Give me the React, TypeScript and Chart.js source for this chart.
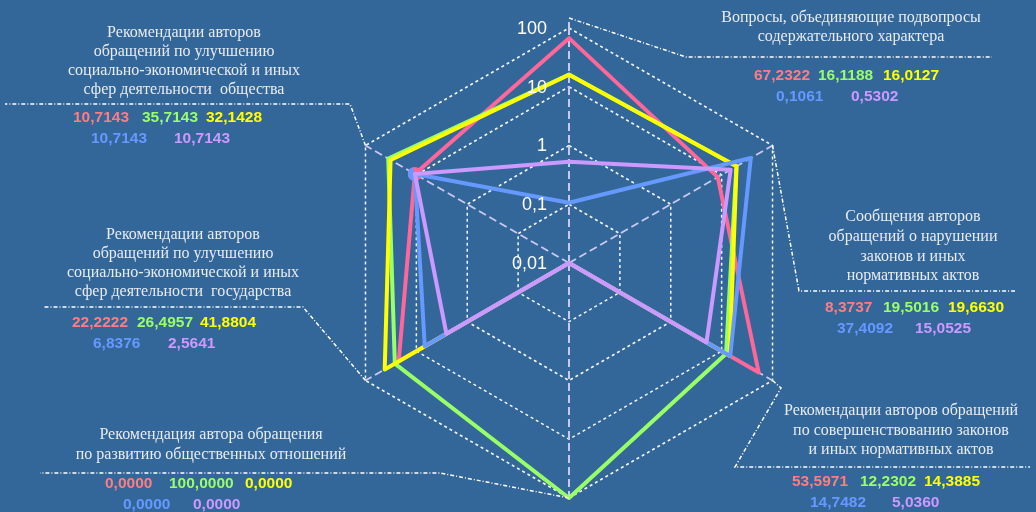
import React, { useEffect, useRef } from 'react';
import { Chart, registerables } from 'chart.js';

Chart.register(...registerables);

// ---------- data ----------
const categories: string[][] = [
  ['Вопросы, объединяющие подвопросы', 'содержательного характера'],
  ['Сообщения авторов', 'обращений о нарушении', 'законов и иных', 'нормативных актов'],
  ['Рекомендации авторов обращений', 'по совершенствованию законов', 'и иных нормативных актов'],
  ['Рекомендация автора обращения', 'по развитию общественных отношений'],
  ['Рекомендации авторов', 'обращений по улучшению', 'социально-экономической и иных', 'сфер деятельности  государства'],
  ['Рекомендации авторов', 'обращений по улучшению', 'социально-экономической и иных', 'сфер деятельности  общества'],
];

const seriesPink = [67.2322, 8.3737, 53.5971, 0, 22.2222, 10.7143];
const seriesGreen = [16.1188, 19.5016, 12.2302, 100, 26.4957, 35.7143];
const seriesYellow = [16.0127, 19.663, 14.3885, 0, 41.8804, 32.1428];
const seriesBlue = [0.1061, 37.4092, 14.7482, 0, 6.8376, 10.7143];
const seriesPurple = [0.5302, 15.0525, 5.036, 0, 2.5641, 10.7143];

const tickValues = [100, 10, 1, 0.1, 0.01];
const tickLabels = ['100', '10', '1', '0,1', '0,01'];

// ---------- styles / layout ----------
const BG = '#336699';
const lineColors = ['#ff6699', '#99ff66', '#ffff00', '#6699ff', '#cc99ff'];
const textColors = ['#ff7c80', '#99ff66', '#ffff00', '#6699ff', '#cc99ff'];
const LOG_MIN = -2;
const LOG_MAX = 2;

const toLog = (v: number) => (v > 0 ? Math.max(LOG_MIN, Math.log10(v)) : LOG_MIN);
const fmt = (v: number) => v.toFixed(4).replace('.', ',');

type Layout = {
  cx: number;
  lineYs: number[];
  leader: number[][];
  ext: number;
  row1: { y: number; xs: number[] };
  row2: { y: number; xs: number[] };
};

const layouts: Layout[] = [
  {
    cx: 851, lineYs: [18, 37], ext: 10,
    leader: [[686, 57], [992, 57]],
    row1: { y: 76, xs: [754, 818, 883] }, row2: { y: 97, xs: [776, 851] },
  },
  {
    cx: 913, lineYs: [217, 237, 257, 276], ext: 0,
    leader: [[799, 291], [1015, 291]],
    row1: { y: 308, xs: [825, 883, 948] }, row2: { y: 329, xs: [837, 915] },
  },
  {
    cx: 901, lineYs: [411, 431, 450], ext: 0,
    leader: [[781, 388], [735, 467], [1030, 467]],
    row1: { y: 482, xs: [792, 860, 924] }, row2: { y: 503, xs: [810, 892] },
  },
  {
    cx: 211, lineYs: [435, 455], ext: 0,
    leader: [[440, 473], [40, 473]],
    row1: { y: 484, xs: [105, 169, 245] }, row2: { y: 505, xs: [123, 193] },
  },
  {
    cx: 183, lineYs: [235, 254, 273, 292], ext: 0,
    leader: [[303, 307], [43, 307]],
    row1: { y: 323, xs: [72, 137, 200] }, row2: { y: 344, xs: [93, 168] },
  },
  {
    cx: 184, lineYs: [33, 52, 71, 90], ext: 0,
    leader: [[350, 104], [5, 104]],
    row1: { y: 118, xs: [73, 142, 206] }, row2: { y: 139, xs: [91, 174] },
  },
];

function makeHalfDot(color: string, r: number) {
  const c = document.createElement('canvas');
  c.width = r * 2;
  c.height = r * 2;
  const g = c.getContext('2d');
  if (g) {
    g.fillStyle = color;
    g.beginPath();
    g.moveTo(r, r);
    g.arc(r, r, r, Math.PI * 0.4, Math.PI * 1.4);
    g.closePath();
    g.fill();
  }
  return c;
}

const decorPlugin = {
  id: 'decor',
  beforeDraw(chart: any) {
    const { ctx, width, height } = chart;
    ctx.save();
    ctx.fillStyle = BG;
    ctx.fillRect(0, 0, width, height);
    ctx.restore();
  },
  afterDraw(chart: any) {
    const { ctx } = chart;
    const scale = chart.scales.r;
    const xc = scale.xCenter;
    const yc = scale.yCenter;
    const R = scale.drawingArea;
    const allSeries = [seriesPink, seriesGreen, seriesYellow, seriesBlue, seriesPurple];

    ctx.save();
    // leader lines
    ctx.strokeStyle = '#ffffff';
    ctx.lineWidth = 1.5;
    ctx.setLineDash([4, 2, 1, 2]);
    layouts.forEach((L, i) => {
      const p = scale.getPointPosition(i, R + L.ext);
      ctx.beginPath();
      ctx.moveTo(p.x, p.y);
      L.leader.forEach(([x, y]) => ctx.lineTo(x, y));
      ctx.stroke();
    });
    // top spoke extension
    ctx.strokeStyle = '#c8c8f0';
    ctx.lineWidth = 2;
    ctx.setLineDash([6, 4]);
    const pTop = scale.getPointPosition(0, R);
    const pTopExt = scale.getPointPosition(0, R + 10);
    ctx.beginPath();
    ctx.moveTo(pTop.x, pTop.y);
    ctx.lineTo(pTopExt.x, pTopExt.y);
    ctx.stroke();
    ctx.setLineDash([]);

    // tick labels
    ctx.fillStyle = '#ffffff';
    ctx.font = '18px "Liberation Sans", Arial, sans-serif';
    ctx.textAlign = 'right';
    ctx.textBaseline = 'middle';
    tickValues.forEach((v, k) => {
      const d = scale.getDistanceFromCenterForValue(toLog(v));
      ctx.fillText(tickLabels[k], xc - 22, yc - d + 1);
    });

    // category labels
    ctx.fillStyle = '#e8ecf2';
    ctx.font = '16px "Liberation Serif", "Times New Roman", serif';
    ctx.textAlign = 'center';
    layouts.forEach((L, i) => {
      categories[i].forEach((line, j) => ctx.fillText(line, L.cx, L.lineYs[j]));
    });

    // values
    ctx.font = 'bold 15.5px "Liberation Sans", Arial, sans-serif';
    ctx.textAlign = 'left';
    layouts.forEach((L, i) => {
      [0, 1, 2].forEach((s, k) => {
        ctx.fillStyle = textColors[s];
        ctx.fillText(fmt(allSeries[s][i]), L.row1.xs[k], L.row1.y);
      });
      [3, 4].forEach((s, k) => {
        ctx.fillStyle = textColors[s];
        ctx.fillText(fmt(allSeries[s][i]), L.row2.xs[k], L.row2.y);
      });
    });
    ctx.restore();
  },
};

export default function App() {
  const ref = useRef<HTMLCanvasElement | null>(null);

  useEffect(() => {
    document.body.style.margin = '0';
    document.body.style.background = BG;
    const canvas = ref.current;
    if (!canvas) return;
    const series = [seriesPink, seriesGreen, seriesYellow, seriesBlue, seriesPurple];
    const dotIndex = 5;
    const blueHalf = makeHalfDot(lineColors[3], 7);
    const chart = new Chart(canvas, {
      type: 'radar',
      data: {
        labels: categories.map((c) => c.join(' ')),
        datasets: series.map((s, i) => ({
          label: 'S' + (i + 1),
          data: s.map(toLog),
          borderColor: lineColors[i],
          backgroundColor: lineColors[i],
          borderWidth: 4,
          fill: false,
          tension: 0,
          borderJoinStyle: 'round' as const,
          pointRadius: s.map((_, k) => (k === dotIndex && (i === 0 || i === 3) ? 7 : 0)),
          pointStyle: i === 3 ? (blueHalf as any) : 'circle',
          pointBorderWidth: 0,
          order: 5 - i,
        })),
      },
      options: {
        responsive: false,
        animation: false,
        layout: { padding: { left: 334, right: 232, top: 28, bottom: 14 } },
        plugins: { legend: { display: false }, tooltip: { enabled: false } },
        scales: {
          r: {
            min: LOG_MIN,
            max: LOG_MAX,
            ticks: { display: false, stepSize: 1 },
            pointLabels: { display: false },
            grid: { color: 'rgba(255,255,255,0.95)', lineWidth: 1.5 },
            border: { dash: [3, 3] } as any,
            angleLines: { display: true, color: '#c8c8f0', lineWidth: 2, borderDash: [8, 4] } as any,
          },
        },
      },
      plugins: [decorPlugin],
    });
    return () => chart.destroy();
  }, []);

  return <canvas ref={ref} width={1036} height={512} style={{ display: 'block' }} />;
}
